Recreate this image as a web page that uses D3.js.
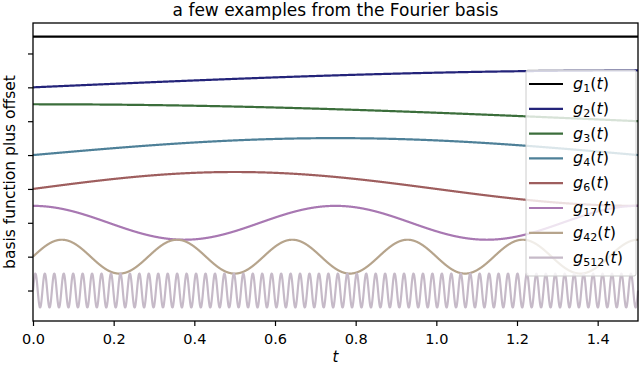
<!DOCTYPE html>
<html>
<head>
<meta charset="utf-8">
<script src="https://cdn.jsdelivr.net/npm/d3@7"></script>
<style>
  body { margin: 0; background: #fff; }
  svg { display: block; font-family: "DejaVu Sans", sans-serif; }
</style>
</head>
<body>
<svg id="chart" width="640" height="365"></svg>
<script>
// ---- data ----
const basisIndices = [1, 2, 3, 4, 6, 17, 42, 512];
const offsets = [-1, -2, -3, -4, -5, -6, -7, -8];
const amplitude = 0.5;
const period = 6;          // domain length of the Fourier basis
const tRange = [0, 1.5];
const xTicks = [0.0, 0.2, 0.4, 0.6, 0.8, 1.0, 1.2, 1.4];
const yTicks = [-1, -2, -3, -4, -5, -6, -7, -8];
const yDomain = [-8.9, -0.1];
const colors = ["#000000", "#24247a", "#3b6e3b", "#4e8098", "#9e5e5e", "#a878b2", "#b6a48c", "#c6bac8"];
const nSamples = 3000;

function basis(k, t) {
  if (k === 1) return amplitude;
  const m = Math.floor(k / 2);
  const w = 2 * Math.PI * m / period;
  return k % 2 === 0 ? amplitude * Math.sin(w * t) : amplitude * Math.cos(w * t);
}

// ---- layout ----
const svg = d3.select("#chart");
const L = 33, R = 638, T = 23, B = 321;
const x = d3.scaleLinear().domain(tRange).range([L, R]);
const y = d3.scaleLinear().domain(yDomain).range([B, T]);

const ts = d3.range(nSamples + 1).map(i => tRange[0] + (tRange[1] - tRange[0]) * i / nSamples);

const plot = svg.append("g");
const line = d3.line().x(d => x(d[0])).y(d => y(d[1]));
basisIndices.forEach((k, i) => {
  const pts = ts.map(t => [t, offsets[i] + basis(k, t)]);
  plot.append("path")
    .attr("d", line(pts))
    .attr("fill", "none")
    .attr("stroke", colors[i])
    .attr("stroke-width", 2.2)
    .attr("stroke-linejoin", "round");
});

// axes
const xAxis = d3.axisBottom(x).tickValues(xTicks).tickFormat(d3.format(".1f")).tickSize(5).tickPadding(8);
const gx = svg.append("g").attr("transform", `translate(0,${B})`).call(xAxis);
gx.select(".domain").remove();
gx.selectAll("text").attr("font-size", 14.5).attr("fill", "#000").attr("font-family", "DejaVu Sans");
gx.selectAll("line").attr("stroke", "#000").attr("stroke-width", 1.2);

const yAxis = d3.axisLeft(y).tickValues(yTicks).tickFormat("").tickSize(5);
const gy = svg.append("g").attr("transform", `translate(${L},0)`).call(yAxis);
gy.select(".domain").remove();
gy.selectAll("line").attr("stroke", "#000").attr("stroke-width", 1.2);

// frame
svg.append("rect").attr("x", L).attr("y", T).attr("width", R - L).attr("height", B - T)
  .attr("fill", "none").attr("stroke", "#000").attr("stroke-width", 1.3);

// labels
svg.append("text").attr("x", (L + R) / 2).attr("y", 16).attr("text-anchor", "middle")
  .attr("font-size", 17).text("a few examples from the Fourier basis");
svg.append("text").attr("x", (L + R) / 2).attr("y", 362).attr("text-anchor", "middle")
  .attr("font-size", 15).attr("font-style", "italic").text("t");
svg.append("text").attr("transform", `translate(15,${(T + B) / 2}) rotate(-90)`)
  .attr("text-anchor", "middle").attr("font-size", 15.5).text("basis function plus offset");

// legend
const lg = svg.append("g");
const lgX = 526, lgY = 70, lgW = 110, lgH = 206, rowH = 24.8;
lg.append("rect").attr("x", lgX).attr("y", lgY).attr("width", lgW).attr("height", lgH)
  .attr("rx", 2).attr("fill", "#fff").attr("fill-opacity", 0.8)
  .attr("stroke", "#cccccc").attr("stroke-width", 1);
basisIndices.forEach((k, i) => {
  const cy = lgY + 14 + i * rowH;
  lg.append("line").attr("x1", lgX + 3).attr("x2", lgX + 37).attr("y1", cy).attr("y2", cy)
    .attr("stroke", colors[i]).attr("stroke-width", 2.2);
  const tx = lg.append("text").attr("x", lgX + 47).attr("y", cy + 5).attr("font-size", 16);
  tx.append("tspan").attr("font-style", "italic").text("g");
  tx.append("tspan").attr("font-size", 11).attr("dy", 3).text(String(k));
  tx.append("tspan").attr("dy", -3).text("(");
  tx.append("tspan").attr("font-style", "italic").text("t");
  tx.append("tspan").text(")");
});
</script>
</body>
</html>
